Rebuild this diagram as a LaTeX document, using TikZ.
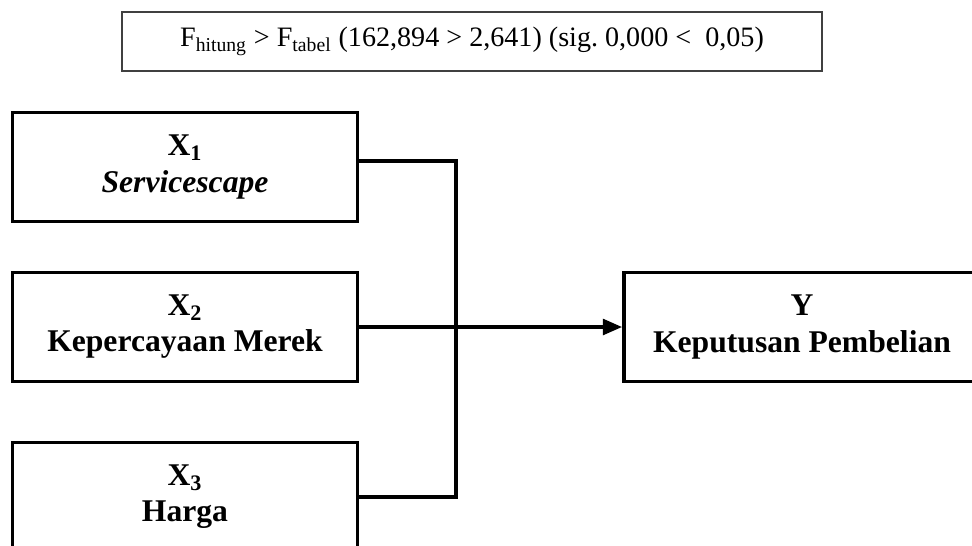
\documentclass[tikz,border=0pt]{standalone}
\usepackage{fontspec}
\setmainfont{Liberation Serif}
\usetikzlibrary{arrows.meta}
\begin{document}
\begin{tikzpicture}[
    x=0.02cm, y=-0.02cm,
    varbox/.style={rectangle, draw, line width=2.2pt, minimum width=6.9cm, minimum height=2.18cm, align=center, font=\fontsize{18}{20.5}\selectfont\bfseries, inner sep=0pt},
    ftest/.style={rectangle, draw=black!75, line width=0.7pt, minimum width=14cm, minimum height=1.18cm, font=\fontsize{16}{19}\selectfont, inner sep=0pt},
    link/.style={line width=2pt},
    arrowlink/.style={link, -{Triangle[length=11pt, width=9pt]}}
]
\clip (0,0) rectangle (972,545);
\useasboundingbox (0,0) rectangle (972,545);

% F-test result
\node[ftest] (fres) at (472,41.5) {\frenchspacing F\textsubscript{hitung} > F\textsubscript{tabel} (162,894 > 2,641) (sig. 0,000 <\ \ 0,05)};

% Independent variables
\node[varbox] (x1) at (185,167) {X\textsubscript{1}\\ \textit{Servicescape}};
\node[varbox] (x2) at (185,327) {X\textsubscript{2}\\ Kepercayaan Merek};
\node[varbox] (x3) at (185,497) {X\textsubscript{3}\\ Harga};

% Dependent variable
\node[varbox, minimum width=7.12cm] (y) at (802,327) {Y\\ Keputusan Pembelian};

% Connectors
\coordinate (jn) at (456,327);
\draw[link] ([yshift=3.4pt]x1.east) -| (jn);
\draw[link] (x3.east) -| (jn);
\draw[arrowlink] (x2.east) -- (y.west);
\end{tikzpicture}
\end{document}
